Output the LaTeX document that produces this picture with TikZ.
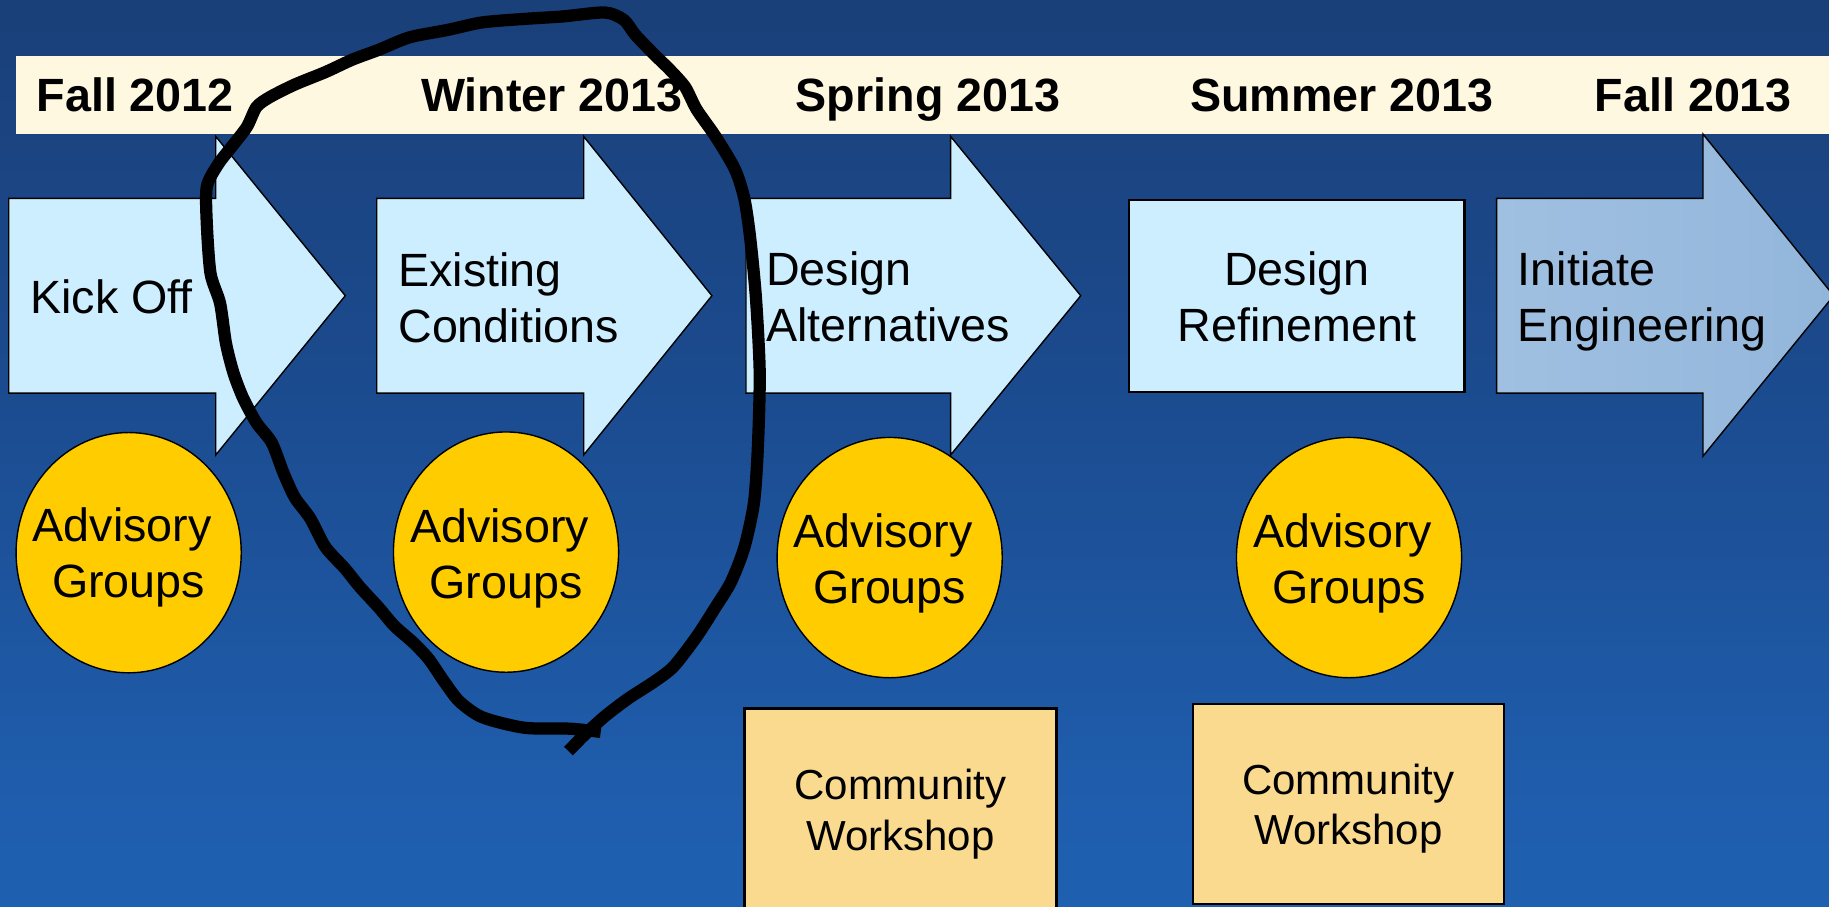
\documentclass[tikz,border=0pt]{standalone}
\usepackage{fontspec}
\setmainfont{Liberation Sans}
\usetikzlibrary{shapes.geometric}
\definecolor{bgA}{HTML}{2068BC}
\definecolor{bgB}{HTML}{1F5EAE}
\definecolor{bgC}{HTML}{1B4A8D}
\definecolor{bgD}{HTML}{1A3D74}
\definecolor{bgE}{HTML}{1C3463}
\definecolor{bandcream}{HTML}{FFF8E1}
\definecolor{arrowblue}{HTML}{CCEEFF}
\definecolor{lastL}{HTML}{A0C0E1}
\definecolor{lastR}{HTML}{92B6DB}
\definecolor{advyellow}{HTML}{FFCC00}
\definecolor{workfill}{HTML}{FADA8F}
\pgfdeclareverticalshading{bgshade}{100bp}{color(0bp)=(bgA); color(30bp)=(bgB); color(55bp)=(bgC); color(80bp)=(bgD); color(100bp)=(bgE)}
\begin{document}
\begin{tikzpicture}[x=1pt,y=-1pt,
  blockarrow/.style={draw=black, line width=1.2pt, fill=arrowblue, line join=miter},
  lastarrow/.style={draw=black, line width=1.2pt, left color=lastL, right color=lastR, line join=miter},
  refinebox/.style={draw=black, line width=2pt, fill=arrowblue},
  advisory/.style={ellipse, draw=black, line width=1.2pt, fill=advyellow, minimum width=193pt, minimum height=206pt, inner sep=0pt},
  workshop/.style={draw=black, line width=2pt, fill=workfill},
  datetext/.style={font=\fontsize{40}{48}\selectfont\bfseries, anchor=base west, inner sep=0pt},
  lefttext/.style={font=\fontsize{40}{48}\selectfont, anchor=base west, inner sep=0pt},
  midtext/.style={font=\fontsize{40}{48}\selectfont, anchor=base, inner sep=0pt},
  worktext/.style={font=\fontsize{36}{43}\selectfont, anchor=base, inner sep=0pt},
  penloop/.style={line width=10.5pt, line join=round, line cap=butt, draw=black}
]
\useasboundingbox (0,0) rectangle (1568,777);
\begin{scope}
\clip (0,0) rectangle (1568,777);
\shade[shading=bgshade] (0,0) rectangle (1568,777);
% date band
\fill[bandcream] (13.7,48) rectangle (1580,114.9);
% block arrows
\draw[blockarrow] (7.5,170) -- (185,170) -- (185,117) -- (296,253.5) -- (185,390) -- (185,337) -- (7.5,337) -- cycle;
\draw[blockarrow] (323,170) -- (500.4,170) -- (500.4,117) -- (610.3,253.5) -- (500.4,390) -- (500.4,337) -- (323,337) -- cycle;
\draw[blockarrow] (639.5,170) -- (815,170) -- (815,117) -- (926.5,253.5) -- (815,390) -- (815,337) -- (639.5,337) -- cycle;
\draw[refinebox] (968,171.5) rectangle (1255.6,336);
\draw[lastarrow] (1283,170) -- (1460,170) -- (1460,115) -- (1572,253.5) -- (1460,391) -- (1460,337) -- (1283,337) -- cycle;
% advisory ellipses
\node[advisory] (e1) at (110.3,473.8) {};
\node[advisory] (e2) at (433.8,473.3) {};
\node[advisory] (e3) at (762.7,478) {};
\node[advisory] (e4) at (1156.5,478) {};
% workshop boxes
\draw[workshop] (638.3,607.5) rectangle (905.6,800);
\draw[workshop] (1022.7,603.5) rectangle (1289.4,775);
\end{scope}
% dates
\node[datetext] (d1) at (31.2,95.7) {Fall 2012};
\node[datetext] (d2) at (360.9,95.7) {Winter 2013};
\node[datetext] (d3) at (682,95.7) {Spring 2013};
\node[datetext] (d4) at (1020,95.7) {Summer 2013};
\node[datetext] (d5) at (1367,95.7) {Fall 2013};
% phase labels
\node[lefttext] (a1) at (25.8,268.6) {Kick Off};
\node[lefttext] (a2a) at (341.3,245.2) {Existing};
\node[lefttext] (a2b) at (341.3,293.4) {Conditions};
\node[lefttext] (a3a) at (656.7,244.5) {Design};
\node[lefttext] (a3b) at (656.7,292.9) {Alternatives};
\node[midtext] (a4a) at (1111.8,244.5) {Design};
\node[midtext] (a4b) at (1111.8,292.9) {Refinement};
\node[lefttext] (a5a) at (1301,244.5) {Initiate};
\node[lefttext] (a5b) at (1301,292.9) {Engineering};
% advisory labels
\node[midtext] (e1a) at ([xshift=-5.5pt,yshift=9.4pt]e1.center) {Advisory};
\node[midtext] (e1b) at ([yshift=-38.6pt]e1.center) {Groups};
\node[midtext] (e2a) at ([xshift=-5.5pt,yshift=8.5pt]e2.center) {Advisory};
\node[midtext] (e2b) at ([yshift=-39.5pt]e2.center) {Groups};
\node[midtext] (e3a) at ([xshift=-5.5pt,yshift=8.5pt]e3.center) {Advisory};
\node[midtext] (e3b) at ([yshift=-39.5pt]e3.center) {Groups};
\node[midtext] (e4a) at ([xshift=-5.5pt,yshift=8.5pt]e4.center) {Advisory};
\node[midtext] (e4b) at ([yshift=-39.5pt]e4.center) {Groups};
% workshop labels
\node[worktext] (w1a) at (772,685.8) {Community};
\node[worktext] (w1b) at (772,728.7) {Workshop};
\node[worktext] (w2a) at (1156,681.5) {Community};
\node[worktext] (w2b) at (1156,724.4) {Workshop};
% hand-drawn loop
\draw[penloop] plot[smooth, tension=0.45] coordinates {
(515,627.5) (489,624.7) (449.6,623.9) (413.5,614.9) (393.8,601.3) (380.7,584.2) (367.6,565) (354.4,551) (338,536.5) (324.9,521.1) (308.5,503.2) (295.4,487) (279,469) (265.9,444.3) (252.7,426.4) (242.9,405.1) (233,379.5) (219.9,362.5) (208.4,341.2) (200.2,319.8) (193.7,294.2) (188.7,260.1) (180.5,234.5) (177.3,191.9) (177.3,159.9) (187.1,140.7) (198.6,125.8) (211.7,108.7) (219.9,91.7) (231.4,83.2) (252.7,72.5) (279,61.8) (301.9,51.2) (324.9,42.6) (351.1,32) (384,25.6) (413.5,19.2) (449.6,16.2) (482.4,14.1) (518.5,10.7) (534.9,17.1) (544.7,29.9) (561.1,46.9) (574.2,59.7) (587.4,74.6) (597.2,93.8) (613.6,117.3) (630,145) (638.2,170.6) (643.2,204.7) (648.1,255.9) (651.3,319.8) (649.7,383.8) (646.4,430.7) (638.2,469.1) (626.7,498.9) (613.6,520.3) (597.2,545.8) (577.5,571.4) (561.1,584.2) (538.2,599.1) (518.5,614.1) (502.1,629) (487.3,643.9)};
\end{tikzpicture}
\end{document}
